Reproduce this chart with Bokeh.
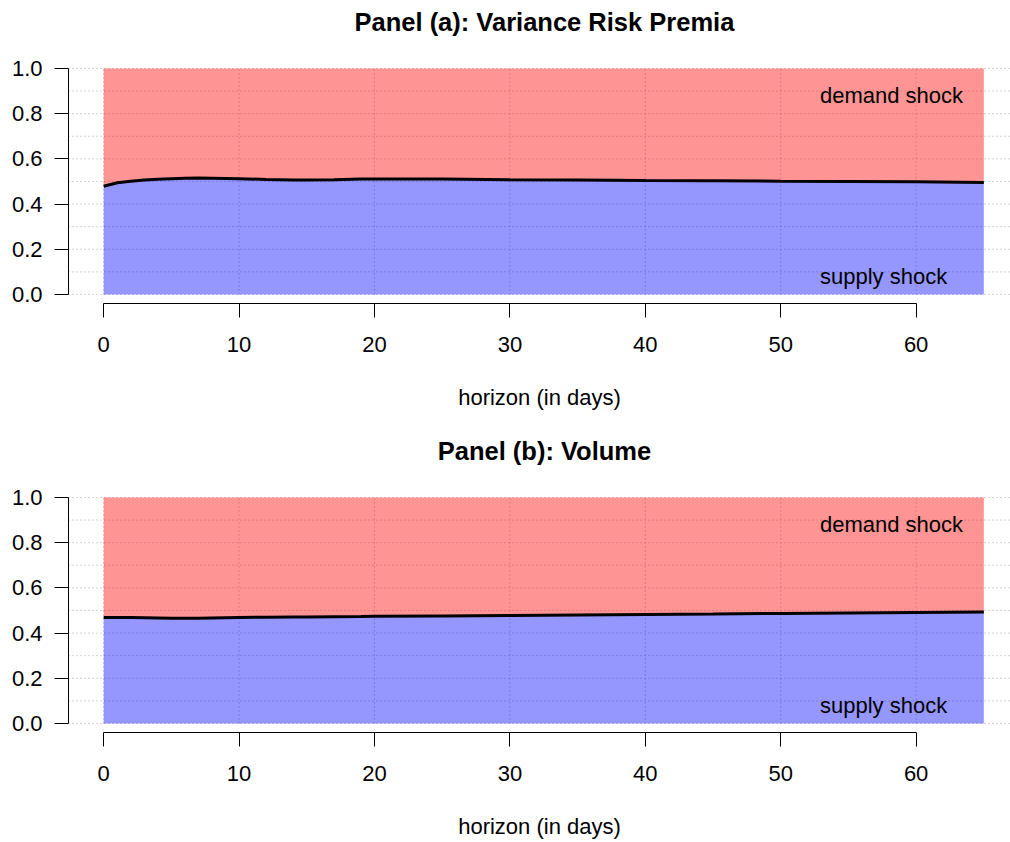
from bokeh.plotting import figure
from bokeh.layouts import column
from bokeh.models import FixedTicker, NumeralTickFormatter, Range1d, ColumnDataSource, Label
from bokeh.core.properties import value
from bokeh.embed import file_html
from bokeh.resources import INLINE

# ---- data ----
horizon = [0, 1, 2, 3, 4, 5, 6, 7, 8, 9, 10, 12, 14, 15, 17, 19, 20, 25, 30, 35, 40, 45, 50, 55, 60, 65]
vrp_supply = [0.479, 0.494, 0.501, 0.506, 0.510, 0.512, 0.514, 0.515, 0.514, 0.513, 0.512, 0.509, 0.507,
              0.506, 0.508, 0.511, 0.511, 0.511, 0.508, 0.506, 0.504, 0.503, 0.501, 0.500, 0.499, 0.495]
vol_supply = [0.469, 0.469, 0.469, 0.468, 0.467, 0.466, 0.466, 0.466, 0.467, 0.468, 0.469, 0.470, 0.471,
              0.471, 0.472, 0.473, 0.474, 0.476, 0.478, 0.480, 0.482, 0.484, 0.487, 0.489, 0.491, 0.493]
titles = ["Panel (a): Variance Risk Premia", "Panel (b): Volume"]
x_ticks = [0, 10, 20, 30, 40, 50, 60]
y_ticks = [0.0, 0.2, 0.4, 0.6, 0.8, 1.0]
grid_y = [0.0, 0.1, 0.2, 0.3, 0.4, 0.5, 0.6, 0.7, 0.8, 0.9, 1.0]
label_demand = "demand shock"
label_supply = "supply shock"
label_x = 52.9
label_y_demand = 0.88
label_y_supply = 0.08
xlabel = "horizon (in days)"

X_LO, X_HI = -2.6, 66.97
Y_LO, Y_HI = -0.04, 1.3007   # frame extends up to the top edge so that the title sits inside it
FONT = "Liberation Sans"
FS = "22px"
TITLE_X = 32.55   # centre of the full plotting region
TITLE_Y = 1.205   # above the data area


def panel(title, supply, bottom_border):
    p = figure(output_backend="svg", toolbar_location=None,
               frame_width=942, frame_height=303,
               min_border_left=68, min_border_right=0, min_border_top=0,
               min_border_bottom=bottom_border,
               x_range=Range1d(X_LO, X_HI), y_range=Range1d(Y_LO, Y_HI))
    p.outline_line_color = None
    p.xgrid.visible = False
    p.ygrid.visible = False
    p.background_fill_color = "white"
    p.border_fill_color = "white"

    # dotted grid
    gsrc = ColumnDataSource(dict(x0=[X_LO] * len(grid_y), x1=[X_HI] * len(grid_y), y=grid_y))
    p.segment(x0="x0", y0="y", x1="x1", y1="y", source=gsrc,
              line_color="#A8A8A8", line_width=1, line_dash="1 3")
    vsrc = ColumnDataSource(dict(x=x_ticks, y0=[0.0] * len(x_ticks), y1=[1.0] * len(x_ticks)))
    p.segment(x0="x", y0="y0", x1="x", y1="y1", source=vsrc,
              line_color="#A8A8A8", line_width=1, line_dash="1 3")

    # areas
    p.varea(x=horizon, y1=[0.0] * len(horizon), y2=supply, fill_color="#0000FF", fill_alpha=0.41)
    p.varea(x=horizon, y1=supply, y2=[1.0] * len(horizon), fill_color="#FF0000", fill_alpha=0.42)
    p.line(x=horizon, y=supply, line_color="black", line_width=3)

    p.text(x=[label_x, label_x], y=[label_y_demand, label_y_supply], text=[label_demand, label_supply],
           text_font=value(FONT), text_font_size=FS, text_align="left",
           text_baseline="middle", text_color="black")

    # title
    p.add_layout(Label(x=TITLE_X, y=TITLE_Y, text=title, text_font=FONT, text_font_size="25.5px",
                       text_font_style="bold", text_color="black", text_align="center",
                       text_baseline="middle"))

    # axes
    for ax in (p.xaxis[0], p.yaxis[0]):
        ax.axis_line_color = "black"
        ax.axis_line_width = 1
        ax.major_tick_line_color = "black"
        ax.major_tick_out = 14
        ax.major_tick_in = 0
        ax.minor_tick_line_color = None
        ax.major_label_text_font = FONT
        ax.major_label_text_font_size = FS
        ax.major_label_text_color = "black"
    p.xaxis[0].ticker = FixedTicker(ticks=x_ticks)
    p.xaxis[0].bounds = (x_ticks[0], x_ticks[-1])
    p.xaxis[0].major_label_standoff = 19
    p.xaxis[0].axis_label = xlabel
    p.xaxis[0].axis_label_text_font = FONT
    p.xaxis[0].axis_label_text_font_size = FS
    p.xaxis[0].axis_label_text_font_style = "normal"
    p.xaxis[0].axis_label_text_color = "black"
    p.xaxis[0].axis_label_standoff = 30
    p.yaxis[0].ticker = FixedTicker(ticks=y_ticks)
    p.yaxis[0].bounds = (y_ticks[0], y_ticks[-1])
    p.yaxis[0].formatter = NumeralTickFormatter(format="0.0")
    p.yaxis[0].major_label_standoff = 12
    p.yaxis[0].major_label_orientation = "horizontal"
    return p


p1 = panel(titles[0], vrp_supply, 126)
p2 = panel(titles[1], vol_supply, 110)
layout = column(p1, p2, spacing=0)

open("out.html", "w").write(file_html(layout, INLINE))
